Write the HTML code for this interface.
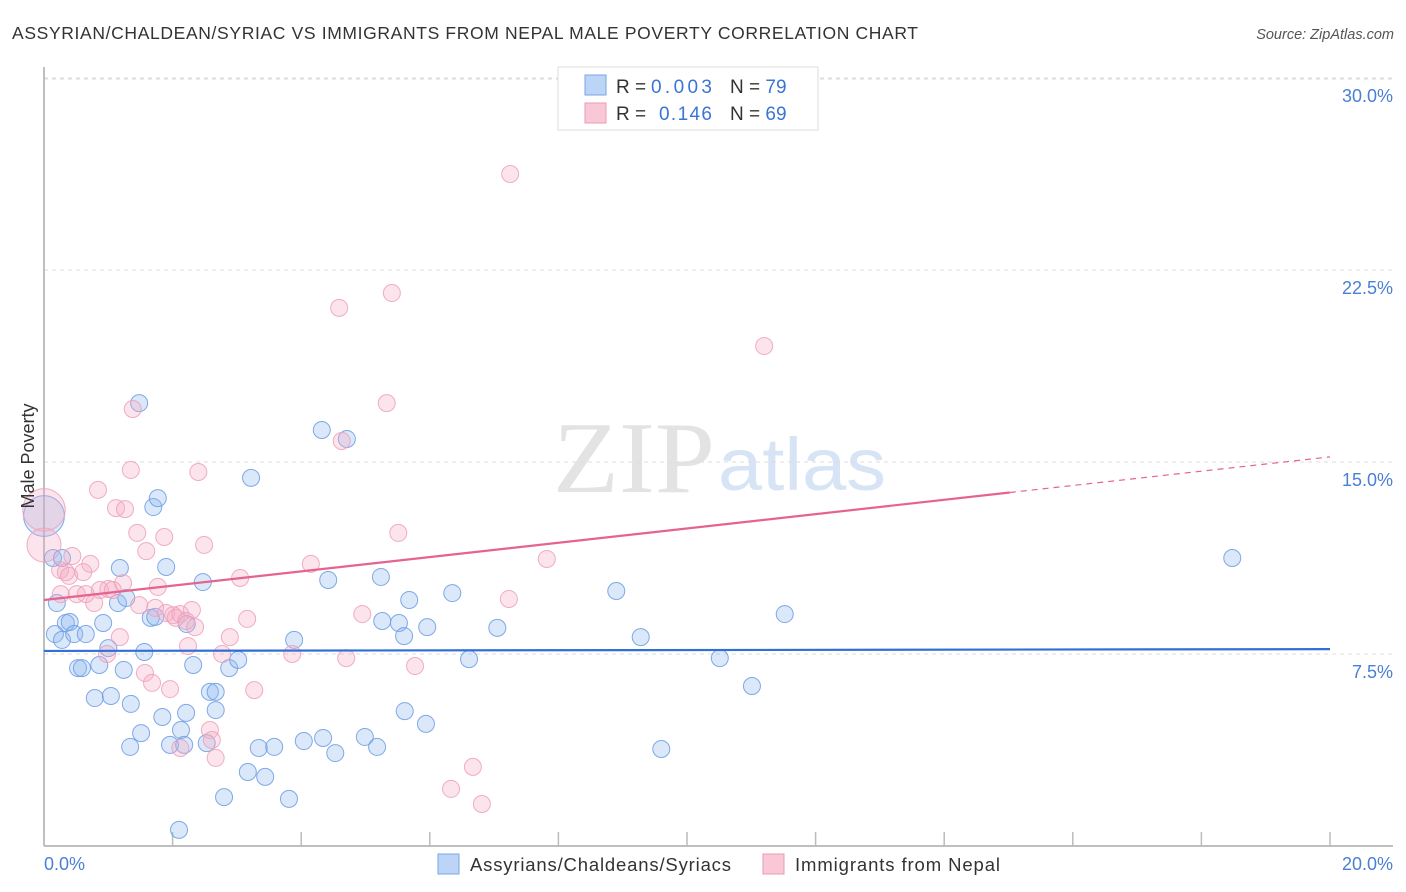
<!DOCTYPE html>
<html><head><meta charset="utf-8"><style>
body{margin:0;background:#fff;font-family:"Liberation Sans",sans-serif;}
#wrap{position:relative;width:1406px;height:892px;overflow:hidden;}
</style></head><body>
<div id="wrap">
<svg id="chart" width="1406" height="892" xmlns="http://www.w3.org/2000/svg">
<text x="12" y="39" font-size="17.5" fill="#333" textLength="906" lengthAdjust="spacing">ASSYRIAN/CHALDEAN/SYRIAC VS IMMIGRANTS FROM NEPAL MALE POVERTY CORRELATION CHART</text>
<text x="1394" y="39" font-size="14.5" fill="#555" font-style="italic" text-anchor="end">Source: ZipAtlas.com</text>
<g>
<text x="553" y="492" font-family="Liberation Serif,serif" font-size="102" fill="#e3e3e3" textLength="162" lengthAdjust="spacingAndGlyphs">ZIP</text>
<text x="718" y="490" font-size="74" fill="#d6e4f5" textLength="168" lengthAdjust="spacingAndGlyphs">atlas</text>
</g>
<g id="grid"></g>
<g id="axes"></g>
<g id="pts"></g>
<g id="lines"></g>
<text x="34" y="456" font-size="18" fill="#333" text-anchor="middle" transform="rotate(-90 34 456)">Male Poverty</text>
<g>
<rect x="558" y="67" width="260" height="63" fill="#fff" stroke="#ddd"/>
<rect x="585" y="75" width="21" height="20" fill="#bcd4f5" stroke="#7aa6e6"/>
<rect x="585" y="103" width="21" height="20" fill="#f8c8d6" stroke="#ec9ab4"/>
<text x="616" y="93" font-size="19" fill="#333">R = <tspan x="651" fill="#3a74d6" textLength="61">0.003</tspan><tspan x="730">N = </tspan><tspan fill="#3a74d6">79</tspan></text>
<text x="616" y="120" font-size="19" fill="#333">R = <tspan x="659" fill="#3a74d6" textLength="53">0.146</tspan><tspan x="730">N = </tspan><tspan fill="#3a74d6">69</tspan></text>
</g>
<g>
<rect x="438" y="854" width="21" height="20" fill="#bcd4f5" stroke="#7aa6e6"/>
<text x="470" y="871" font-size="18.5" fill="#333" textLength="261" lengthAdjust="spacing">Assyrians/Chaldeans/Syriacs</text>
<rect x="763" y="854" width="21" height="20" fill="#f8c8d6" stroke="#ec9ab4"/>
<text x="795" y="871" font-size="18.5" fill="#333" textLength="205" lengthAdjust="spacing">Immigrants from Nepal</text>
</g>
</svg>
</div>
<script>
const yTicks=[7.5,15,22.5,30];
const yTickLabels=["7.5%","15.0%","22.5%","30.0%"];
const xTickVals=[0,2,4,6,8,10,12,14,16,18,20];
const xEndLabels=["0.0%","20.0%"];
const blueX=[1.48,1.70,1.77,1.90,1.18,0,0.14,0.20,0.17,0.28,0.34,0.40,0.47,0.65,0.53,0.59,0.86,0.92,0.79,1.04,1.00,1.15,1.28,1.24,1.34,1.35,1.51,1.56,1.66,1.84,1.96,2.13,2.18,2.21,2.22,2.32,2.47,2.53,2.58,2.67,2.67,2.80,2.88,3.02,3.17,3.22,3.34,3.44,3.58,3.81,3.89,4.04,4.32,4.34,4.42,4.53,4.71,4.99,5.18,5.24,5.26,5.52,5.60,5.61,5.68,5.94,5.96,6.35,6.61,7.05,8.90,9.28,9.60,10.51,11.01,11.52,18.48,2.10,1.73,0.28];
const blueY=[17.30,13.24,13.59,10.90,10.86,12.89,11.25,9.49,8.28,8.05,8.71,8.75,8.28,8.28,6.95,6.95,7.07,8.71,5.78,5.86,7.73,9.49,9.69,6.88,3.87,5.55,4.41,7.58,8.91,5.04,3.95,4.53,3.95,5.20,8.67,7.07,10.31,4.02,6.02,6.02,5.31,1.91,6.95,7.27,2.89,14.38,3.83,2.70,3.87,1.84,8.05,4.10,16.25,4.22,10.39,3.63,15.90,4.26,3.87,10.51,8.79,8.71,8.20,5.27,9.61,4.77,8.55,9.88,7.30,8.52,9.96,8.16,3.79,7.34,6.25,9.06,11.25,0.63,8.95,11.25];
const blueSize=blueX.map((v,i)=>i===5?2.4:1);
const pinkX=[7.25,5.41,4.59,11.20,5.33,1.38,4.63,1.35,2.40,0.84,1.12,1.26,0,0,5.51,1.45,1.87,2.49,1.59,7.82,4.15,0.44,0.72,0.25,0.34,0.61,0.39,3.05,1.77,1.23,1.00,0.26,0.51,0.65,0.87,1.07,0.78,1.48,1.73,1.90,2.01,2.12,2.30,2.05,2.21,2.35,3.16,4.95,7.23,1.18,2.89,2.24,0.98,2.77,3.86,4.70,5.77,1.57,1.68,1.96,3.27,2.58,2.61,2.12,2.67,6.67,6.33,6.81];
const pinkY=[26.25,21.60,21.02,19.53,17.30,17.07,15.82,14.69,14.61,13.91,13.20,13.16,13.13,11.76,12.23,12.23,12.07,11.76,11.52,11.21,11.02,11.33,11.02,10.78,10.70,10.70,10.55,10.47,10.12,10.27,10.04,9.84,9.84,9.84,10.00,10.00,9.49,9.41,9.30,9.10,9.02,9.06,9.22,8.91,8.79,8.55,8.87,9.06,9.65,8.16,8.16,7.81,7.50,7.50,7.50,7.34,7.03,6.76,6.37,6.13,6.09,4.53,4.14,3.83,3.44,3.09,2.23,1.64];
const pinkSize=pinkX.map((v,i)=>i===12?2.5:(i===13?2.0:1));
const blueTrend=[7.62,7.69];
const pinkTrend=[9.61,15.2];
const pinkSolidEnd=15.02;

const X0=44,X1=1330,YB=846,PPY=25.6;
const xs=v=>X0+(X1-X0)*v/20;
const ys=v=>YB-v*PPY;
const NS="http://www.w3.org/2000/svg";
function mk(tag,attrs,parent){const e=document.createElementNS(NS,tag);for(const k in attrs)e.setAttribute(k,attrs[k]);parent.appendChild(e);return e;}
const grid=document.getElementById('grid'),axes=document.getElementById('axes'),pts=document.getElementById('pts'),lines=document.getElementById('lines');
yTicks.forEach((t,i)=>{
 const l=mk('line',{x1:X0,x2:1393,y1:ys(t),y2:ys(t),stroke:'#ddd','stroke-dasharray':'4,4'},grid);
 
 
 const tx=mk('text',{x:1393,y:ys(t)+24,'font-size':18,fill:'#4a7fd6','text-anchor':'end'},axes);
 tx.textContent=yTickLabels[i];
 
 
});
const topLine=mk('line',{x1:X0,x2:1393,y1:79,y2:79,stroke:'#ddd','stroke-dasharray':'4,4'},grid);


const ya=mk('line',{x1:X0,x2:X0,y1:67,y2:YB,stroke:'#aaa','stroke-width':1.5},axes);


const xa=mk('line',{x1:X0,x2:1393,y1:YB,y2:YB,stroke:'#aaa','stroke-width':1.5},axes);


xTickVals.forEach(v=>{
 const t=mk('line',{x1:xs(v),x2:xs(v),y1:832,y2:YB,stroke:'#bbb','stroke-width':1.5},axes);
 
 
});
const xl0=mk('text',{x:44,y:870,'font-size':18,fill:'#4a7fd6'},axes);
xl0.textContent=xEndLabels[0];


const xl1=mk('text',{x:1393,y:870,'font-size':18,fill:'#4a7fd6','text-anchor':'end'},axes);
xl1.textContent=xEndLabels[1];


function drawPts(X,Y,S,fill,stroke,name){
 X.forEach((x,i)=>{
  const c=mk('circle',{cx:xs(x),cy:ys(Y[i]),r:8.5*S[i],fill:fill,stroke:stroke,'stroke-width':1,'stroke-opacity':0.85},pts);
  
  
 });
}
drawPts(blueX,blueY,blueSize,'rgba(140,182,238,0.32)','#6b9be3','point-assyrian');
drawPts(pinkX,pinkY,pinkSize,'rgba(245,170,195,0.32)','#ee9fb9','point-nepal');
const bl=mk('line',{x1:xs(0),x2:xs(20),y1:ys(blueTrend[0]),y2:ys(blueTrend[1]),stroke:'#2f6fd6','stroke-width':2.2},lines);


const pm=pinkTrend[0]+(pinkTrend[1]-pinkTrend[0])*pinkSolidEnd/20;
const pl=mk('line',{x1:xs(0),x2:xs(pinkSolidEnd),y1:ys(pinkTrend[0]),y2:ys(pm),stroke:'#e5638f','stroke-width':2.2},lines);


const pd=mk('line',{x1:xs(pinkSolidEnd),x2:xs(20),y1:ys(pm),y2:ys(pinkTrend[1]),stroke:'#e5638f','stroke-width':1.2,'stroke-dasharray':'6,5'},lines);


</script>
</body></html>
